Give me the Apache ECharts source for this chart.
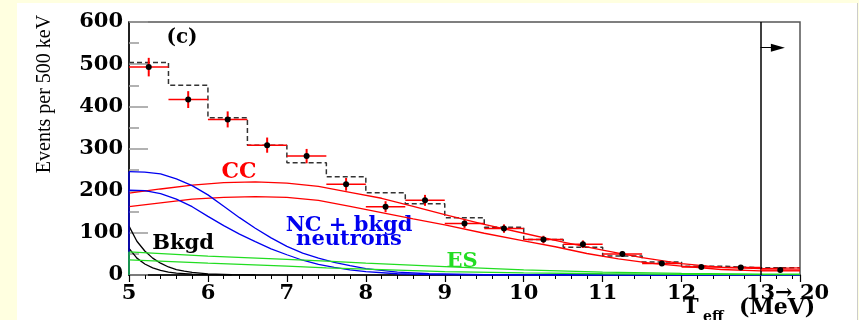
<!DOCTYPE html>
<html>
<head>
<meta charset="utf-8">
<script src="https://cdn.jsdelivr.net/npm/echarts@6/dist/echarts.min.js"></script>
<style>
  html, body { margin: 0; padding: 0; background: #ffffe0; }
  #panel { position: absolute; left: 17px; top: 3px; width: 840px; height: 317px; background: #fff; border-right: 1px solid #ccc; }
  #chart { position: absolute; left: 0; top: 0; width: 859px; height: 320px; }
</style>
</head>
<body>
<div id="panel"></div>
<div id="chart"></div>
<script>
// bins of 500 keV, the last one is the 13 -> 20 MeV overflow bin
var binLo = [5, 5.5, 6, 6.5, 7, 7.5, 8, 8.5, 9, 9.5, 10, 10.5, 11, 11.5, 12, 12.5, 13];
var counts = [493, 416, 369, 308, 282, 215, 162, 177, 122, 110, 84, 73, 50, 27, 19, 18, 12];
var errors = [22, 20, 19, 18, 17, 15, 13, 13, 11, 10, 9, 9, 7, 5, 4, 4, 3];
var mcTotal = [504, 450, 373, 308, 266, 233, 195, 169, 136, 113, 84, 66, 45, 31, 21, 17, 17];

// fit components (two curves each = band)
var ccUpper = [[5,194],[5.4,204],[5.8,213],[6.2,219],[6.6,221],[7,218],[7.4,210],[7.8,196],[8.2,182],[8.6,163],[9,143],[9.5,120],[10,99],[10.5,78],[11,59],[11.5,41],[12,27],[12.5,18],[13,15],[13.5,17]];
var ccLower = [[5,162],[5.4,171],[5.8,180],[6.2,184],[6.6,186],[7,184],[7.4,177],[7.8,163],[8.2,148],[8.6,133],[9,119],[9.5,99],[10,81],[10.4,67],[10.8,51],[11.2,38],[11.6,28],[12,21],[12.5,13],[13,10],[13.5,10]];
var ncUpper = [[5,245],[5.2,244],[5.4,240],[5.6,228],[5.8,212],[6,190],[6.2,163],[6.4,136],[6.6,111],[6.8,88],[7,68],[7.2,52],[7.4,40],[7.6,30],[7.8,22],[8,15],[8.4,7],[8.8,3],[9.5,1],[10,0],[13.5,0]];
var ncLower = [[5,201],[5.2,200],[5.4,193],[5.6,180],[5.8,162],[6,139],[6.2,117],[6.4,97],[6.6,79],[6.8,62],[7,48],[7.2,35],[7.4,25],[7.6,18],[7.8,12],[8,8],[8.4,3],[8.8,1],[9.5,0],[13.5,0]];
var bkUpper = [[5,116],[5.1,80],[5.2,57],[5.3,40],[5.4,28],[5.5,19],[5.6,13],[5.7,9],[5.8,6],[6,2.5],[6.3,0.7],[6.6,0]];
var bkLower = [[5,63],[5.1,40],[5.2,26],[5.3,17],[5.4,11],[5.5,7],[5.6,4.5],[5.8,2],[6,1],[6.3,0]];
var esUpper = [[5,55],[6,45],[7,37],[7.5,33],[8,28],[9,20],[10,12],[11,7],[12,4],[13,2],[13.5,2]];
var esLower = [[5,36],[6,28],[7,21],[7.5,17],[8,14],[9,8],[10,5],[11,3],[12,1.5],[13,1],[13.5,1]];

var yTicks = [0, 100, 200, 300, 400, 500, 600];

var RED = '#ff0000', BLUE = '#0000f0', GREEN = '#22dd22';
var SERIF = '"DejaVu Serif", serif';

var histData = binLo.map(function (x, i) { return [x, mcTotal[i]]; });
histData.push([13.5, mcTotal[mcTotal.length - 1]]);
var pointData = binLo.map(function (x, i) { return [x, x + 0.5, counts[i], errors[i]]; });

function curve(data, color) {
    return {
        type: 'line', data: data, showSymbol: false, silent: true,
        lineStyle: { color: color, width: 1.3 }, z: 3
    };
}

var chart = echarts.init(document.getElementById('chart'));
var option = {
    animation: false,
    backgroundColor: 'transparent',
    grid: { left: 129, right: 59, top: 22, bottom: 45, show: true, borderColor: '#555', borderWidth: 1.5 },
    xAxis: {
        type: 'value', min: 5, max: 13.5, interval: 1,
        axisLine: { lineStyle: { color: '#000', width: 1.5 } },
        axisTick: { length: 7, lineStyle: { color: '#000', width: 1.2 } },
        minorTick: { show: true, splitNumber: 5, length: 4, lineStyle: { color: '#000', width: 1 } },
        splitLine: { show: false },
        axisLabel: {
            margin: 8, color: '#000', fontFamily: SERIF, fontWeight: 'bold', fontSize: 21,
            formatter: function (v) { return v === 13 ? '{pad| }13\u2192 20' : String(v); },
            rich: { pad: { width: 54 } }
        }
    },
    yAxis: {
        type: 'value', min: 0, max: 600, interval: 100,
        axisLine: { show: true, lineStyle: { color: '#000', width: 1.5 } },
        axisTick: { inside: true, length: 19, lineStyle: { color: '#999', width: 1.5 } },
        minorTick: { show: true, splitNumber: 2, length: 10, lineStyle: { color: '#999', width: 1.5 } },
        splitLine: { show: false },
        axisLabel: {
            margin: 6, color: '#000', fontFamily: SERIF, fontWeight: 'bold', fontSize: 21,
            formatter: function (v) { return yTicks.indexOf(v) >= 0 ? String(v) : ''; }
        }
    },
    series: [
        {
            type: 'line', data: histData, step: 'end', showSymbol: false, silent: true, z: 2,
            lineStyle: { color: '#333', width: 1.5, type: [5, 3] },
            markLine: {
                silent: true, animation: false, label: { show: false },
                data: [
                    [{ coord: [13, 0], symbol: 'none', lineStyle: { color: '#000', width: 1.5, type: 'solid' } },
                     { coord: [13, 600], symbol: 'none' }],
                    [{ coord: [13, 539], symbol: 'none', lineStyle: { color: '#000', width: 1, type: 'solid' } },
                     { coord: [13.22, 539], symbol: 'triangle', symbolSize: [8, 14] }]
                ]
            }
        },
        curve(ccUpper, RED), curve(ccLower, RED),
        curve(ncUpper, BLUE), curve(ncLower, BLUE),
        curve(bkUpper, '#000'), curve(bkLower, '#000'),
        curve(esUpper, GREEN), curve(esLower, GREEN),
        // vertical edges of the NC and ES bands at threshold
        curve([[5, 0], [5, ncUpper[0][1]]], BLUE),
        curve([[5, 0], [5, esUpper[0][1]]], GREEN),
        {
            type: 'custom', silent: true, z: 5,
            data: pointData,
            encode: { x: [0, 1], y: 2 },
            renderItem: function (params, api) {
                var x0 = api.value(0), x1 = api.value(1), y = api.value(2), e = api.value(3);
                var xc = (x0 + x1) / 2;
                var pl = api.coord([x0, y]), pr = api.coord([x1, y]);
                var pt = api.coord([xc, y + e]), pb = api.coord([xc, y - e]);
                var pc = api.coord([xc, y]);
                return {
                    type: 'group',
                    children: [
                        { type: 'line', shape: { x1: pl[0], y1: pl[1], x2: pr[0], y2: pr[1] }, style: { stroke: RED, lineWidth: 1.5 } },
                        { type: 'line', shape: { x1: pt[0], y1: pt[1], x2: pb[0], y2: pb[1] }, style: { stroke: RED, lineWidth: 2 } },
                        { type: 'circle', shape: { cx: pc[0], cy: pc[1], r: 3 }, style: { fill: '#000' } }
                    ]
                };
            }
        }
    ],
    graphic: [
        { type: 'text', x: 45, y: 94, rotation: Math.PI / 2,
          style: { text: 'Events per 500 keV', fontFamily: '"Liberation Serif", serif', fontSize: 20, fill: '#000', align: 'center', verticalAlign: 'middle' } },
        { type: 'text', x: 182, y: 38,
          style: { text: '(c)', fontFamily: SERIF, fontWeight: 'bold', fontSize: 20, fill: '#000', align: 'center', verticalAlign: 'middle' } },
        { type: 'text', x: 239, y: 172,
          style: { text: 'CC', fontFamily: SERIF, fontWeight: 'bold', fontSize: 22, fill: RED, align: 'center', verticalAlign: 'middle' } },
        { type: 'text', x: 349, y: 226,
          style: { text: 'NC + bkgd', fontFamily: SERIF, fontWeight: 'bold', fontSize: 21, fill: BLUE, align: 'center', verticalAlign: 'middle' } },
        { type: 'text', x: 349, y: 240,
          style: { text: 'neutrons', fontFamily: SERIF, fontWeight: 'bold', fontSize: 21, fill: BLUE, align: 'center', verticalAlign: 'middle' } },
        { type: 'text', x: 183, y: 244,
          style: { text: 'Bkgd', fontFamily: SERIF, fontWeight: 'bold', fontSize: 21, fill: '#000', align: 'center', verticalAlign: 'middle' } },
        { type: 'text', x: 462, y: 262,
          style: { text: 'ES', fontFamily: SERIF, fontWeight: 'bold', fontSize: 21, fill: GREEN, align: 'center', verticalAlign: 'middle' } },
        { type: 'text', x: 683, y: 308,
          style: { text: 'T', fontFamily: SERIF, fontWeight: 'bold', fontSize: 21, fill: '#000', align: 'left', verticalAlign: 'middle' } },
        { type: 'text', x: 703, y: 317,
          style: { text: 'eff', fontFamily: SERIF, fontWeight: 'bold', fontSize: 14, fill: '#000', align: 'left', verticalAlign: 'middle' } },
        { type: 'text', x: 739, y: 308,
          style: { text: '(MeV)', fontFamily: SERIF, fontWeight: 'bold', fontSize: 22, fill: '#000', align: 'left', verticalAlign: 'middle' } }
    ]
};
chart.setOption(option);
</script>
</body>
</html>
